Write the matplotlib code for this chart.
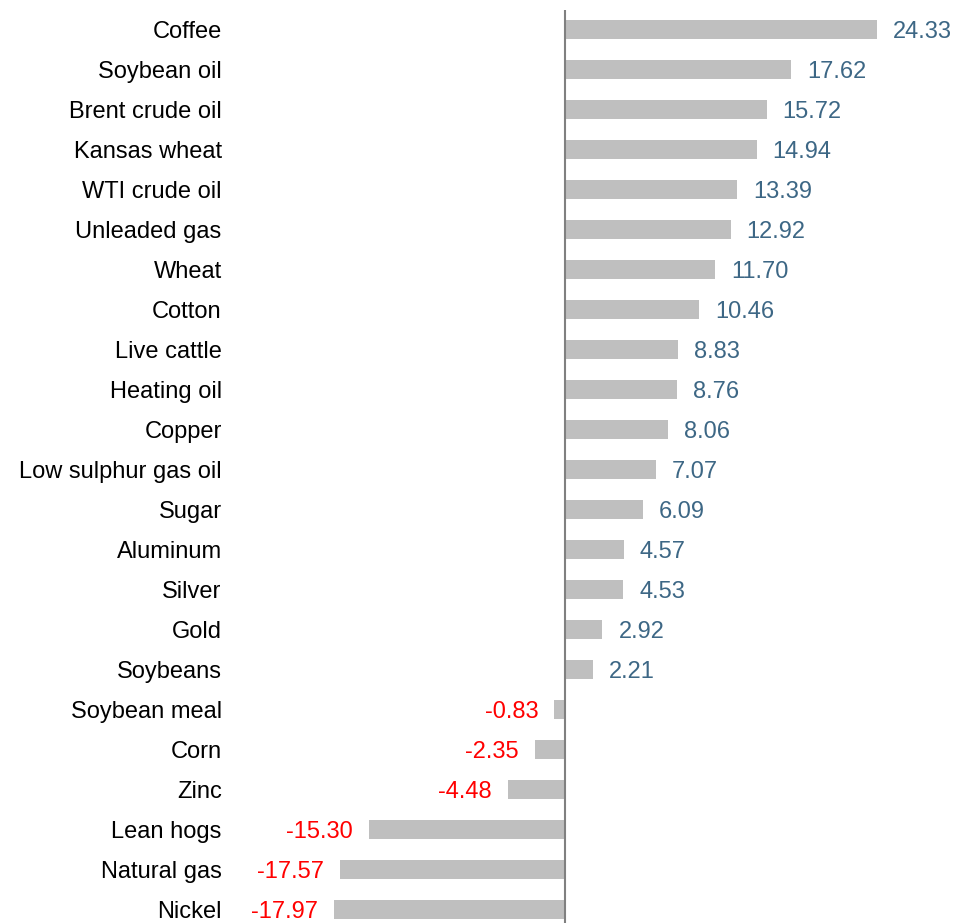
import matplotlib
matplotlib.use("Agg")
import matplotlib.pyplot as plt

categories = ["Coffee", "Soybean oil", "Brent crude oil", "Kansas wheat", "WTI crude oil",
              "Unleaded gas", "Wheat", "Cotton", "Live cattle", "Heating oil", "Copper",
              "Low sulphur gas oil", "Sugar", "Aluminum", "Silver", "Gold", "Soybeans",
              "Soybean meal", "Corn", "Zinc", "Lean hogs", "Natural gas", "Nickel"]
values = [24.33, 17.62, 15.72, 14.94, 13.39, 12.92, 11.70, 10.46, 8.83, 8.76, 8.06,
          7.07, 6.09, 4.57, 4.53, 2.92, 2.21, -0.83, -2.35, -4.48, -15.30, -17.57, -17.97]

plt.rcParams['font.family'] = ['Liberation Sans', 'DejaVu Sans']

W, H = 958, 923
fig = plt.figure(figsize=(W / 100, H / 100), dpi=100)
scale = 12.83
x0 = 565
left_px, right_px = 230, 958
ax = fig.add_axes([left_px / W, 0, (right_px - left_px) / W, 1 - 10 / H])

pos = list(range(len(categories)))
ax.barh(pos, values, height=0.48, color="#bfbfbf", zorder=1)
ax.axvline(0, color="#808080", lw=1.5, zorder=2)

ax.set_xlim((left_px - x0) / scale, (right_px - x0) / scale)
ax.set_ylim((H - 29.5) / 40, (10 - 29.5) / 40)

ax.set_yticks(pos)
ax.set_yticklabels(categories, fontsize=17, color="black")
ax.tick_params(axis="y", length=0, pad=6)
ax.set_xticks([])
for s in ax.spines.values():
    s.set_visible(False)

for p, v in zip(pos, values):
    if v >= 0:
        ax.annotate(f"{v:.2f}", (v, p), xytext=(11.5, 0), textcoords="offset points",
                    ha="left", va="center_baseline", fontsize=17, color="#3d6785")
    else:
        ax.annotate(f"{v:.2f}", (v, p), xytext=(-11.5, 0), textcoords="offset points",
                    ha="right", va="center_baseline", fontsize=17, color="#ff0000")

fig.savefig("out.png", dpi=100)
